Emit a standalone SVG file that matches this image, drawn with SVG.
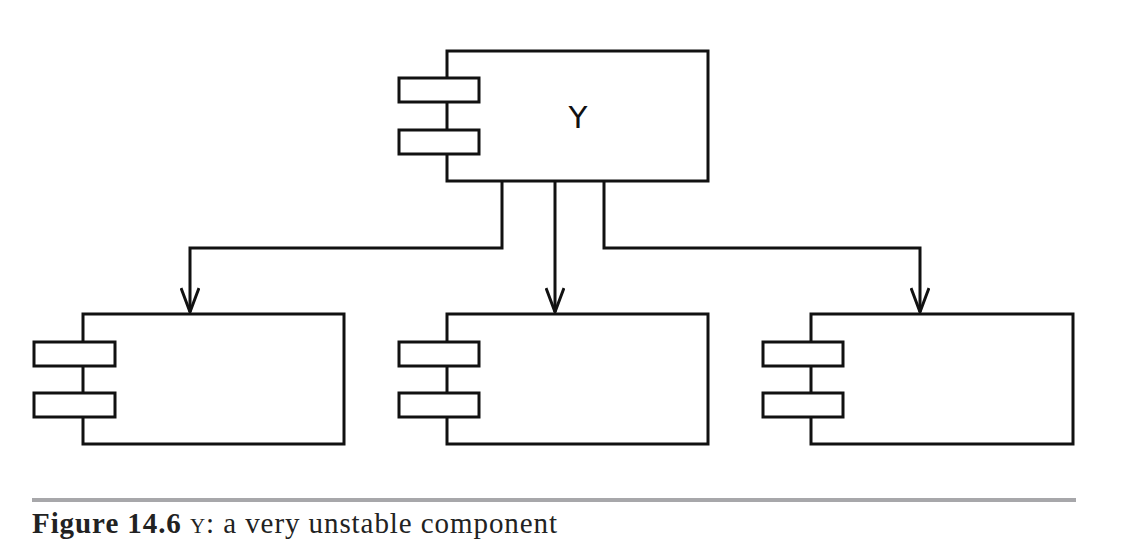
<svg xmlns="http://www.w3.org/2000/svg" width="1132" height="558" viewBox="0 0 1132 558">
<defs>
<style>
.box{fill:#fff;stroke:#111;stroke-width:3}
.port{fill:#fff;stroke:#111;stroke-width:3}
.conn{fill:none;stroke:#111;stroke-width:3}
.lbl{font-family:"DejaVu Sans","Liberation Sans",sans-serif;font-size:31px;fill:#111}
.cap{font-family:"Liberation Serif",serif;font-size:29px;fill:#222}
</style>
<marker id="arr" viewBox="0 0 26 20" refX="25" refY="10" markerWidth="26" markerHeight="20" markerUnits="userSpaceOnUse" orient="auto">
<path d="M1,1 L25,10 L1,19" fill="none" stroke="#111" stroke-width="3"/>
</marker>
</defs>
<rect width="1132" height="558" fill="#fff"/>
<g id="connectors">
<path class="conn" d="M502,181 V248 H190 V312" marker-end="url(#arr)"/>
<path class="conn" d="M555,181 V312" marker-end="url(#arr)"/>
<path class="conn" d="M604,181 V248 H920 V312" marker-end="url(#arr)"/>
</g>
<g id="Y">
<rect class="box" x="447" y="51" width="261" height="130"/>
<rect class="port" x="399" y="78" width="80" height="24"/>
<rect class="port" x="399" y="130" width="80" height="24"/>
<text class="lbl" x="578" y="128" text-anchor="middle">Y</text>
</g>
<g id="C1">
<rect class="box" x="83" y="314" width="261" height="130"/>
<rect class="port" x="34" y="342" width="81" height="24"/>
<rect class="port" x="34" y="393" width="81" height="24"/>
</g>
<g id="C2">
<rect class="box" x="447" y="314" width="261" height="130"/>
<rect class="port" x="399" y="342" width="80" height="24"/>
<rect class="port" x="399" y="393" width="80" height="24"/>
</g>
<g id="C3">
<rect class="box" x="811" y="314" width="262" height="130"/>
<rect class="port" x="763" y="342" width="80" height="24"/>
<rect class="port" x="763" y="393" width="80" height="24"/>
</g>
<g id="caption">
<rect x="32" y="498" width="1044" height="4" fill="#a7a7aa"/>
<text class="cap" x="32" y="533" textLength="525" lengthAdjust="spacing"><tspan font-weight="bold">Figure 14.6</tspan> <tspan font-size="21">Y</tspan>: a very unstable component</text>
</g>
</svg>
